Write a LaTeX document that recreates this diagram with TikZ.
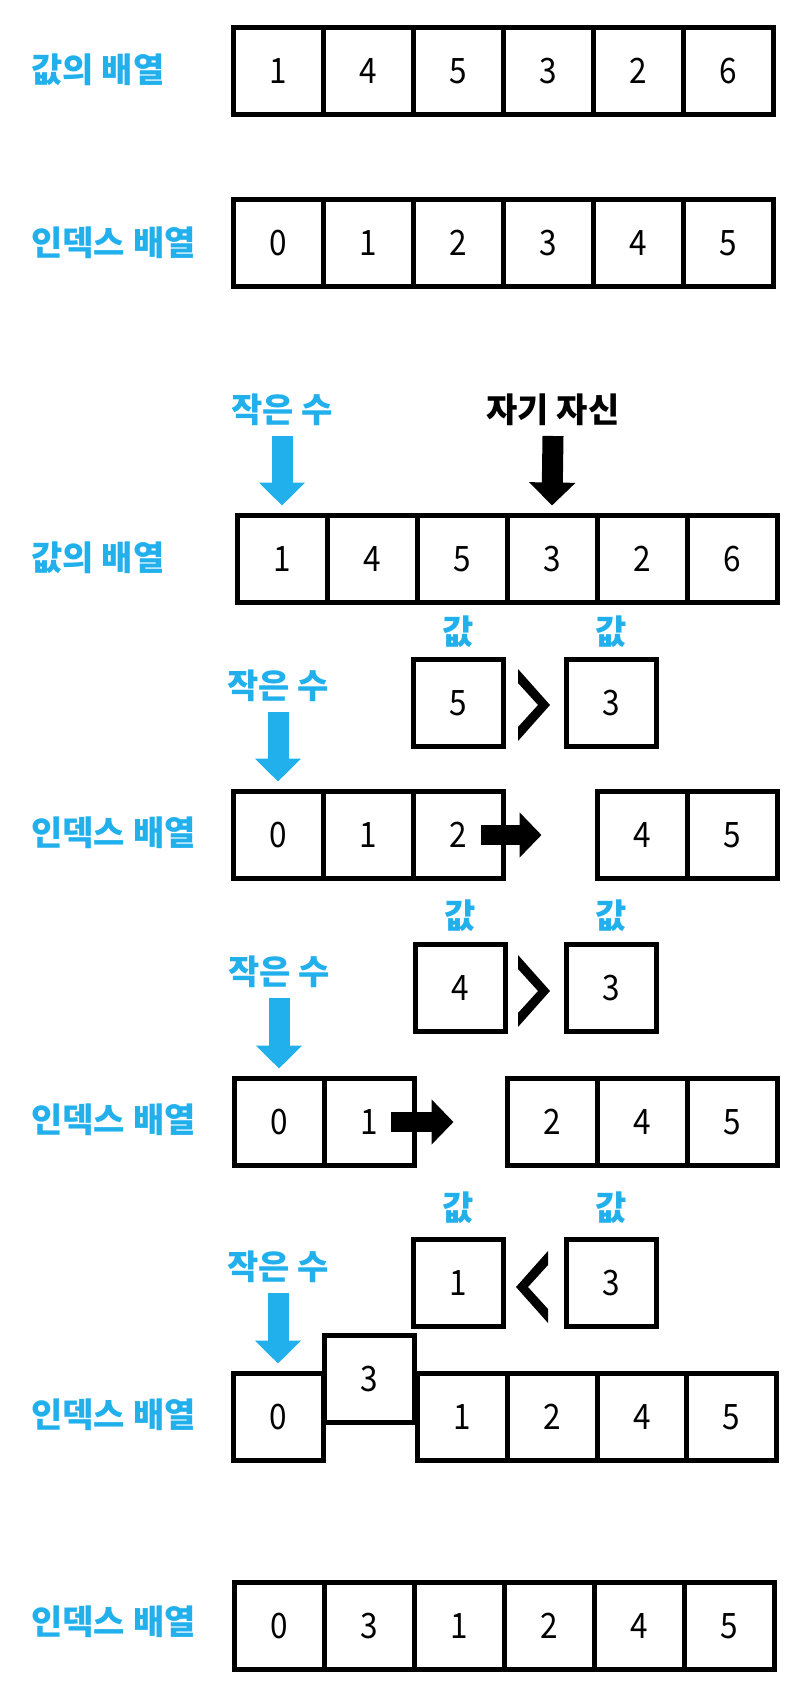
\documentclass[tikz,border=0pt]{standalone}
\usepackage{fontspec}
\usepackage{tikz}
\usetikzlibrary{arrows.meta}
\newfontfamily\korfont{Noto Sans CJK KR}
\newfontfamily\numfont{Noto Sans CJK KR}[FakeStretch=0.9]
\definecolor{kblue}{RGB}{33,176,236}

\begin{document}
\begin{tikzpicture}[
  x=0.5pt, y=-0.5pt,
  cell/.style={
    draw, line width=2.5pt, fill=white,
    minimum width=45pt, minimum height=43.5pt,
    inner sep=0pt, font=\numfont\fontsize{17.5}{20}\selectfont
  },
  lbl/.style={
    anchor=west, inner sep=0pt, text=kblue,
    font=\korfont\bfseries\fontsize{17}{20}\selectfont
  },
  tag/.style={
    inner sep=0pt, text=kblue,
    font=\korfont\bfseries\fontsize{17}{20}\selectfont
  },
  selftag/.style={tag, text=black},
  bluearr/.style={
    kblue, line width=10.5pt,
    -{Triangle[length=11.5pt, width=22.5pt]}
  },
  blackarr/.style={bluearr, black},
  fatarr/.style={
    black, line width=10pt,
    -{Triangle[length=11pt, width=22pt]}
  }
]
  \useasboundingbox (0,0) rectangle (808,1700);

  % value array and index array
  \node[lbl] (la) at (31,70) {값의 배열};
  \foreach \v [count=\i from 0] in {1,4,5,3,2,6} {
    \node[cell] (a\i) at ({278+90*\i},71) {\v};
  }
  \node[lbl] (lb) at (31,243) {인덱스 배열};
  \foreach \v [count=\i from 0] in {0,1,2,3,4,5} {
    \node[cell] (b\i) at ({278+90*\i},243) {\v};
  }

  % pick the smaller one and itself
  \node[tag] (sm1) at (282,410) {작은 수};
  \node[selftag] (me) at (553,410) {자기 자신};
  \node[lbl] (lc) at (31,558) {값의 배열};
  \foreach \v [count=\i from 0] in {1,4,5,3,2,6} {
    \node[cell] (c\i) at ({282+90*\i},559) {\v};
  }
  \draw[bluearr] ([yshift=-13pt]sm1.center) -- ([yshift=3.75pt]c0.north);
  \draw[blackarr] ([yshift=-13pt]me.center) -- ([yshift=3.75pt]c3.north);

  % 5 > 3
  \node[tag] (v1) at (458,632) {값};
  \node[tag] (w1) at (611,632) {값};
  \node[cell] (p1) at (458,703) {5};
  \node[cell] (q1) at (611,703) {3};
  \fill[shift={(518,705)}] (0,-36) -- (32,0) -- (0,36) -- (0,22) -- (20,0) -- (0,-22) -- cycle;
  \node[tag] (sm2) at (278,686) {작은 수};
  \node[lbl] (ld) at (31,833) {인덱스 배열};
  \foreach \v [count=\i from 0] in {0,1,2} {
    \node[cell] (d\i) at ({278+90*\i},835) {\v};
  }
  \node[cell] (d4) at (642,835) {4};
  \node[cell] (d5) at (732,835) {5};
  \draw[bluearr] ([yshift=-13pt]sm2.center) -- ([yshift=3.75pt]d0.north);
  \draw[fatarr] ([xshift=-12.5pt]d2.east) -- ([xshift=18pt]d2.east);

  % 4 > 3
  \node[tag] (v2) at (460,916) {값};
  \node[tag] (w2) at (611,916) {값};
  \node[cell] (p2) at (460,988) {4};
  \node[cell] (q2) at (611,988) {3};
  \fill[shift={(518,991)}] (0,-36) -- (32,0) -- (0,36) -- (0,22) -- (20,0) -- (0,-22) -- cycle;
  \node[tag] (sm3) at (279,972) {작은 수};
  \node[lbl] (le) at (31,1120) {인덱스 배열};
  \node[cell] (e0) at (279,1122) {0};
  \node[cell] (e1) at (369,1122) {1};
  \foreach \v/\x in {2/552,4/642,5/732} {
    \node[cell] (e\v) at (\x,1122) {\v};
  }
  \draw[bluearr] ([yshift=-13pt]sm3.center) -- ([yshift=3.75pt]e0.north);
  \draw[fatarr] ([xshift=-13pt]e1.east) -- ([xshift=18.5pt]e1.east);

  % 1 < 3
  \node[tag] (v3) at (458,1208) {값};
  \node[tag] (w3) at (611,1208) {값};
  \node[cell] (p3) at (458,1283) {1};
  \node[cell] (q3) at (611,1283) {3};
  \fill[shift={(548,1287)}] (0,-36) -- (-32,0) -- (0,36) -- (0,22) -- (-20,0) -- (0,-22) -- cycle;
  \node[tag] (sm4) at (278,1267) {작은 수};
  \node[lbl] (lf) at (31,1415) {인덱스 배열};
  \node[cell] (f0) at (278,1417) {0};
  \node[cell] (fx) at (369.5,1379) {3};
  \foreach \v/\x in {1/462,2/552,4/642,5/731} {
    \node[cell] (f\v) at (\x,1417) {\v};
  }
  \draw[bluearr] ([yshift=-13pt]sm4.center) -- ([yshift=3.75pt]f0.north);

  % result
  \node[lbl] (lg) at (31,1622) {인덱스 배열};
  \foreach \v [count=\i from 0] in {0,3,1,2,4,5} {
    \node[cell] (g\i) at ({279+90*\i},1626) {\v};
  }
\end{tikzpicture}
\end{document}
